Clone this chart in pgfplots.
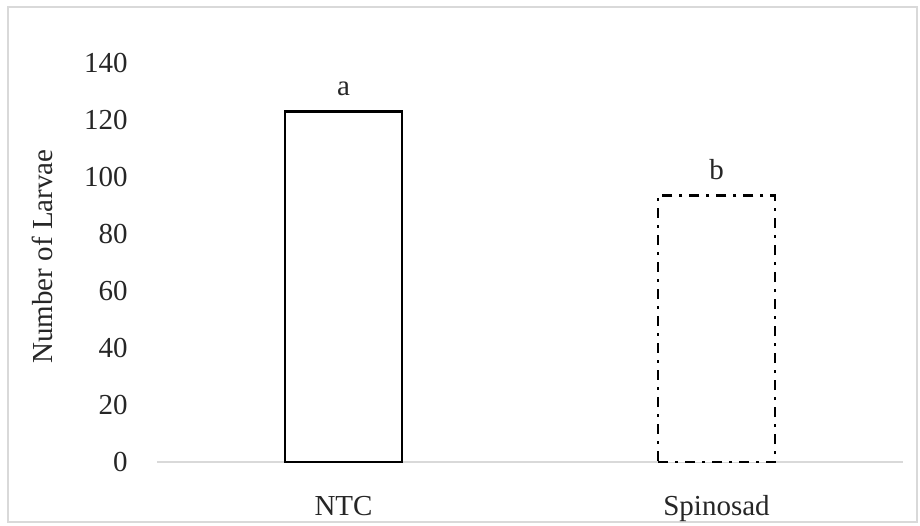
\documentclass[border=0pt]{standalone}
\usepackage{fontspec}
\setmainfont{Liberation Serif}
\usepackage{pgfplots}
\pgfplotsset{compat=1.18}
\definecolor{axgray}{HTML}{D9D9D9}
\definecolor{txt}{HTML}{262626}
\begin{document}
\begin{tikzpicture}
\useasboundingbox (0,0) rectangle (460pt,262.5pt);
\draw[axgray, line width=0.8pt] (4pt,1.5pt) rectangle (458.5pt,259pt);
\begin{axis}[
  at={(78.5pt,31.5pt)}, anchor=south west,
  scale only axis, width=373pt, height=199.5pt,
  ymin=0, ymax=140, xmin=-0.5, xmax=1.5,
  ytick={0,20,...,140},
  xtick={0,1}, xticklabels={NTC,Spinosad},
  axis x line=bottom, axis y line=left,
  x axis line style={draw=axgray, line width=1pt, -},
  y axis line style={draw=none},
  tick style={draw=none},
  font=\fontsize{14.5}{17}\selectfont,
  /pgf/number format/assume math mode=true,
  ticklabel style={text=txt},
  yticklabel style={anchor=east, xshift=-9pt},
  xticklabel style={anchor=base, yshift=-22.5pt},
  ylabel={Number of Larvae},
  every axis y label/.style={at={(axis description cs:-0.1542,0.515)}, rotate=90, anchor=center, text=txt},
  ybar, bar width=58.5pt,
  point meta=explicit symbolic,
  nodes near coords={\pgfplotspointmeta},
  every node near coord/.style={anchor=base, yshift=8pt, text=txt, inner sep=0pt},
]
\addplot[bar shift=0pt, draw=black, fill=white, line width=1.3pt] coordinates {(0,123) [a]};
\addplot[bar shift=0pt, draw=black, fill=white, line width=1.3pt, dash pattern=on 5pt off 3.5pt on 1.5pt off 3.5pt] coordinates {(1,93.5) [b]};
\end{axis}
\end{tikzpicture}
\end{document}
